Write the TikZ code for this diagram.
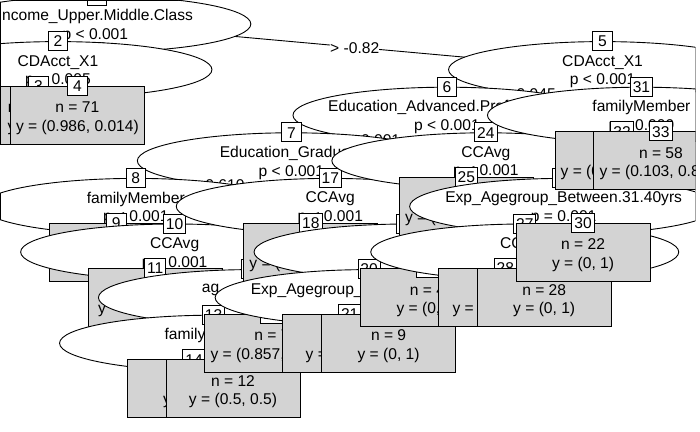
\documentclass[tikz,border=0pt]{standalone}
\usepackage{fontspec}
\setmainfont{Liberation Sans}
\usetikzlibrary{shapes.geometric}
\definecolor{leafgray}{HTML}{D3D3D3}

\begin{document}
\begin{tikzpicture}[x=38.9pt,y=-45.6pt,line width=0.9pt,
  every node/.style={font=\fontsize{15.6}{18.7}\selectfont},
  split/.style={ellipse,draw,fill=white,inner sep=0pt,
    minimum width=308pt,minimum height=56pt},
  splittext/.style={align=center,inner sep=0pt,yshift=-2pt},
  leaf/.style={draw,fill=leafgray,inner sep=0pt,
    minimum width=134pt,minimum height=58pt},
  leaftext/.style={align=center,inner sep=0pt,yshift=-3pt},
  idbox/.style={draw,fill=white,inner xsep=2.5pt,inner ysep=0pt,
    text height=11.5pt,text depth=0pt,minimum width=19.5pt,minimum height=19pt},
  edgelab/.style={fill=white,inner sep=0pt,text height=11.5pt,
    text depth=3.5pt,minimum height=18.7pt,midway,xshift=5pt,yshift=-3pt}]

  \useasboundingbox (-0.9897,-0.5263) rectangle (17.005,8.947);
  \clip (-0.9897,-0.5263) rectangle (16.888,8.947);
  % device frame, drawn where a shape is cut by it
  \coordinate (fnw) at (-0.977,-0.5154);
  \coordinate (fse) at (16.877,8.936);

  \foreach \n/\x/\y in {1/1.5/0,2/0.5/1,3/0/2,4/1/2,5/14.5/1,6/10.5/2,
    7/6.5/3,8/2.5/4,9/2/5,10/3.5/5,11/3/6,12/5.5/6,13/4.5/7,14/4/8,
    15/5/8,16/6/7,17/7.5/4,18/7/5,19/9.5/5,20/8.5/6,21/8/7,22/9/7,
    23/10/6,24/11.5/3,25/11/4,26/13.5/4,27/12.5/5,28/12/6,29/13/6,
    30/14/5,31/15.5/2,32/15/3,33/16/3}
    \coordinate (c\n) at (\x,\y);

  % node 1
  \draw (c1) -- (c2) (c1) -- (c5);
  \node[split] (e1) at (c1) {};
  \begin{scope}
    \clip (c1) ellipse [x radius=154pt,y radius=28pt];
    \draw (fnw) rectangle (fse);
  \end{scope}
  \node[splittext,xshift=-1.5pt] (s1) at (c1) {Income\_Upper.Middle.Class\\p < 0.001};
  \node[idbox] (i1) at (e1.north) {1};
  \begin{scope}
    \clip (i1.south west) rectangle (i1.north east);
    \draw (fnw) rectangle (fse);
  \end{scope}
  \path (c1) -- (c2) node[edgelab] (l2) {≤ -0.82};
  \path (c1) -- (c5) node[edgelab] (l5) {> -0.82};

  % node 2
  \draw (c2) -- (c3) (c2) -- (c4);
  \node[split] (e2) at (c2) {};
  \begin{scope}
    \clip (c2) ellipse [x radius=154pt,y radius=28pt];
    \draw (fnw) rectangle (fse);
  \end{scope}
  \node[splittext] (s2) at (c2) {CDAcct\_X1\\p = 0.005};
  \node[idbox] (i2) at (e2.north) {2};
  \path (c2) -- (c3) node[edgelab] (l3) {\phantom{≤ 0.000}};
  \path (c2) -- (c4) node[edgelab] (l4) {\phantom{> 0.000}};
  \node[leaf] (t3) at (c3) {};
  \begin{scope}
    \clip (t3.south west) rectangle (t3.north east);
    \draw (fnw) rectangle (fse);
  \end{scope}
  \node[leaftext] (x3) at (c3) {n = \phantom{0000}\\y = \phantom{(1, 0)}};
  \node[idbox] (i3) at (t3.north) {3};
  \node[leaf] (t4) at (c4) {};
  \node[leaftext] (x4) at (c4) {n = 71\\y = (0.986, 0.014)};
  \node[idbox] (i4) at (t4.north) {4};

  % node 5
  \draw (c5) -- (c6) (c5) -- (c31);
  \node[split] (e5) at (c5) {};
  \begin{scope}
    \clip (c5) ellipse [x radius=154pt,y radius=28pt];
    \draw (fnw) rectangle (fse);
  \end{scope}
  \node[splittext] (s5) at (c5) {CDAcct\_X1\\p < 0.001};
  \node[idbox] (i5) at (e5.north) {5};
  \path (c5) -- (c6) node[edgelab] (l6) {≤ 0.945};
  \path (c5) -- (c31) node[edgelab] (l31) {> 0.945};

  % node 6
  \draw (c6) -- (c7) (c6) -- (c24);
  \node[split] (e6) at (c6) {};
  \node[splittext] (s6) at (c6) {Education\_Advanced.Professional\\p < 0.001};
  \node[idbox] (i6) at (e6.north) {6};
  \path (c6) -- (c7) node[edgelab] (l7) {≤ 0.001};
  \path (c6) -- (c24) node[edgelab] (l24) {> 0.001};

  % node 7
  \draw (c7) -- (c8) (c7) -- (c17);
  \node[split] (e7) at (c7) {};
  \node[splittext] (s7) at (c7) {Education\_Graduate\\p < 0.001};
  \node[idbox] (i7) at (e7.north) {7};
  \path (c7) -- (c8) node[edgelab] (l8) {≤ 0.610};
  \path (c7) -- (c17) node[edgelab] (l17) {> 0.610};

  % node 8
  \draw (c8) -- (c9) (c8) -- (c10);
  \node[split] (e8) at (c8) {};
  \begin{scope}
    \clip (c8) ellipse [x radius=154pt,y radius=28pt];
    \draw (fnw) rectangle (fse);
  \end{scope}
  \node[splittext] (s8) at (c8) {familyMember\\p < 0.001};
  \node[idbox] (i8) at (e8.north) {8};
  \path (c8) -- (c9) node[edgelab] (l9) {\phantom{≤ 0.000}};
  \path (c8) -- (c10) node[edgelab] (l10) {\phantom{> 0.000}};
  \node[leaf] (t9) at (c9) {};
  \node[idbox] (i9) at (t9.north) {9};

  % node 10
  \draw (c10) -- (c11) (c10) -- (c12);
  \node[split] (e10) at (c10) {};
  \node[splittext] (s10) at (c10) {CCAvg\\p < 0.001};
  \node[idbox] (i10) at (e10.north) {10};
  \path (c10) -- (c11) node[edgelab] (l11) {\phantom{≤ 0.000}};
  \path (c10) -- (c12) node[edgelab] (l12) {\phantom{> 0.000}};
  \node[leaf] (t11) at (c11) {};
  \node[leaftext] (x11) at (c11) {\phantom{n = 00}\\y\phantom{ = (0.000, 0.00)}};
  \node[idbox] (i11) at (t11.north) {11};

  % node 12
  \draw (c12) -- (c13) (c12) -- (c16);
  \node[split] (e12) at (c12) {};
  \node[splittext] (s12) at (c12) {\makebox[101pt][l]{ag}\\\phantom{p < 0.001}};
  \node[idbox] (i12) at (e12.north) {12};
  \path (c12) -- (c13) node[edgelab] (l13) {\phantom{≤ 0.000}};
  \path (c12) -- (c16) node[edgelab] (l16) {\phantom{> 0.000}};

  % node 13
  \draw (c13) -- (c14) (c13) -- (c15);
  \node[split] (e13) at (c13) {};
  \node[splittext] (s13) at (c13) {familyMember\\\phantom{p < 0.001}};
  \node[idbox] (i13) at (e13.north) {13};
  \path (c13) -- (c14) node[edgelab] (l14) {\phantom{≤ 0.000}};
  \path (c13) -- (c15) node[edgelab] (l15) {\phantom{> 0.000}};
  \node[leaf] (t14) at (c14) {};
  \node[leaftext] (x14) at (c14) {\phantom{n = 0}\\y\phantom{ = (1, 0)}};
  \node[idbox] (i14) at (t14.north) {14};
  \node[leaf] (t15) at (c15) {};
  \node[leaftext] (x15) at (c15) {n = 12\\y = (0.5, 0.5)};
  \node[idbox] (i15) at (t15.north) {15};
  \node[leaf] (t16) at (c16) {};
  \node[leaftext] (x16) at (c16) {n = 7\\y = (0.857, 0.143)};
  \node[idbox] (i16) at (t16.north) {16};

  % node 17
  \draw (c17) -- (c18) (c17) -- (c19);
  \node[split] (e17) at (c17) {};
  \node[splittext] (s17) at (c17) {CCAvg\\p < 0.001};
  \node[idbox] (i17) at (e17.north) {17};
  \path (c17) -- (c18) node[edgelab] (l18) {\phantom{≤ 0.000}};
  \path (c17) -- (c19) node[edgelab] (l19) {\phantom{> 0.000}};
  \node[leaf] (t18) at (c18) {};
  \node[leaftext] (x18) at (c18) {\phantom{n = 00}\\y = (\phantom{0.000, 0.000)}};
  \node[idbox] (i18) at (t18.north) {18};

  % node 19
  \draw (c19) -- (c20) (c19) -- (c23);
  \node[split] (e19) at (c19) {};
  \node[idbox] (i19) at (e19.north) {19};
  \path (c19) -- (c20) node[edgelab] (l20) {\phantom{≤ 0.000}};
  \path (c19) -- (c23) node[edgelab] (l23) {\phantom{> 0.000}};

  % node 20
  \draw (c20) -- (c21) (c20) -- (c22);
  \node[split] (e20) at (c20) {};
  \node[splittext] (s20) at (c20) {Exp\_Agegroup\_\phantom{Between.31.40yrs}\\\phantom{p < 0.001}};
  \node[idbox] (i20) at (e20.north) {20};
  \path (c20) -- (c21) node[edgelab] (l21) {\phantom{≤ 0.000}};
  \path (c20) -- (c22) node[edgelab] (l22) {\phantom{> 0.000}};
  \node[leaf] (t21) at (c21) {};
  \node[leaftext] (x21) at (c21) {\phantom{n = 0}\\y =\phantom{ (0.5, 0.5)}};
  \node[idbox] (i21) at (t21.north) {21};
  \node[leaf] (t22) at (c22) {};
  \node[leaftext] (x22) at (c22) {n = 9\\y = (0, 1)};
  \node[idbox] (i22) at (t22.north) {22};
  \node[leaf] (t23) at (c23) {};
  \node[leaftext] (x23) at (c23) {n = 4\\y = (0,\phantom{ 1)}};
  \node[idbox] (i23) at (t23.north) {23};

  % node 24
  \draw (c24) -- (c25) (c24) -- (c26);
  \node[split] (e24) at (c24) {};
  \node[splittext] (s24) at (c24) {CCAvg\\p < 0.001};
  \node[idbox] (i24) at (e24.north) {24};
  \path (c24) -- (c25) node[edgelab] (l25) {\phantom{≤ 0.000}};
  \path (c24) -- (c26) node[edgelab] (l26) {\phantom{> 0.000}};
  \node[leaf] (t25) at (c25) {};
  \node[leaftext] (x25) at (c25) {\phantom{n = 00}\\y = (\phantom{0.000, 0.000)}};
  \node[idbox] (i25) at (t25.north) {25};

  % node 26
  \draw (c26) -- (c27) (c26) -- (c30);
  \node[split] (e26) at (c26) {};
  \begin{scope}
    \clip (c26) ellipse [x radius=154pt,y radius=28pt];
    \draw (fnw) rectangle (fse);
  \end{scope}
  \node[splittext] (s26) at (c26) {Exp\_Agegroup\_Between.31.40yrs\\p = 0.001};
  \node[idbox] (i26) at (e26.north) {26};
  \path (c26) -- (c27) node[edgelab] (l27) {\phantom{≤ 0.000}};
  \path (c26) -- (c30) node[edgelab] (l30) {\phantom{> 0.000}};

  % node 27
  \draw (c27) -- (c28) (c27) -- (c29);
  \node[split] (e27) at (c27) {};
  \node[splittext] (s27) at (c27) {CC\phantom{Avg}\\\phantom{p < 0.001}};
  \node[idbox] (i27) at (e27.north) {27};
  \path (c27) -- (c28) node[edgelab] (l28) {\phantom{≤ 0.000}};
  \path (c27) -- (c29) node[edgelab] (l29) {\phantom{> 0.000}};
  \node[leaf] (t28) at (c28) {};
  \node[leaftext] (x28) at (c28) {\phantom{n = 00}\\y =\phantom{ (0.00, 0.00)}};
  \node[idbox] (i28) at (t28.north) {28};
  \node[leaf] (t29) at (c29) {};
  \node[leaftext] (x29) at (c29) {n = 28\\y = (0, 1)};
  \node[idbox] (i29) at (t29.north) {29};
  \node[leaf] (t30) at (c30) {};
  \node[leaftext] (x30) at (c30) {n = 22\\y = (0, 1)};
  \node[idbox] (i30) at (t30.north) {30};

  % node 31
  \draw (c31) -- (c32) (c31) -- (c33);
  \node[split] (e31) at (c31) {};
  \begin{scope}
    \clip (c31) ellipse [x radius=154pt,y radius=28pt];
    \draw (fnw) rectangle (fse);
  \end{scope}
  \node[splittext] (s31) at (c31) {familyMember\\p = 0.009};
  \node[idbox] (i31) at (e31.north) {31};
  \path (c31) -- (c32) node[edgelab] (l32) {\phantom{≤ 0.000}};
  \path (c31) -- (c33) node[edgelab] (l33) {\phantom{> 0.000}};
  \node[leaf] (t32) at (c32) {};
  \node[leaftext] (x32) at (c32) {\phantom{n = 00}\\y = (0\phantom{.000, 0.000)}};
  \node[idbox] (i32) at (t32.north) {32};
  \node[leaf] (t33) at (c33) {};
  \begin{scope}
    \clip (t33.south west) rectangle (t33.north east);
    \draw (fnw) rectangle (fse);
  \end{scope}
  \node[leaftext] (x33) at (c33) {n = 58\\y = (0.103, 0.897)};
  \node[idbox] (i33) at (t33.north) {33};
\end{tikzpicture}
\end{document}
